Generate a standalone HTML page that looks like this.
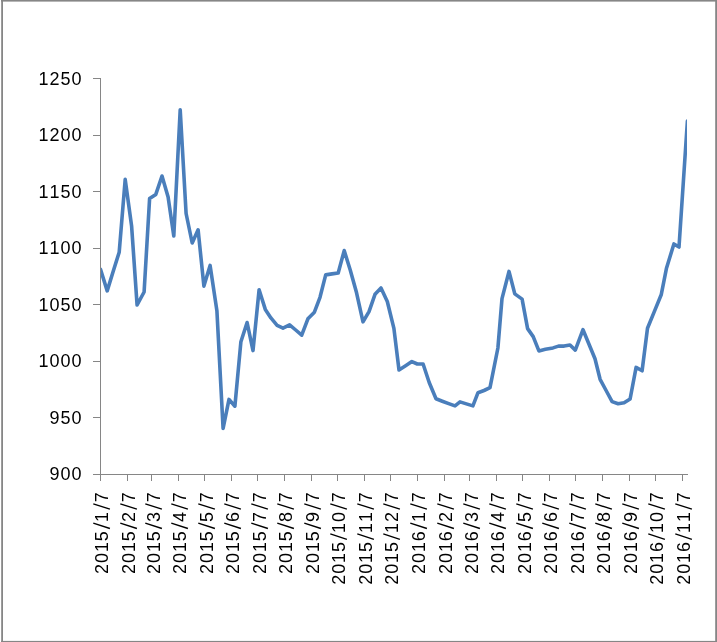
<!DOCTYPE html>
<html><head><meta charset="utf-8"><title>chart</title>
<style>
html,body{margin:0;padding:0;background:#fff;}
body{width:717px;height:642px;overflow:hidden;font-family:"Liberation Sans",sans-serif;}
svg{display:block;will-change:transform;}
text{font-family:"Liberation Sans",sans-serif;font-size:18px;fill:#000;text-anchor:middle;}
.sl{stroke:#000;stroke-width:1.35;stroke-linecap:butt;fill:none;}
</style></head><body>
<svg width="717" height="642" viewBox="0 0 717 642">
<rect x="0" y="0" width="717" height="642" fill="#fff"/>

<g fill="#868686">
<rect x="1" y="0" width="716" height="1.6"/>
<rect x="1.2" y="0" width="1.8" height="642"/>
<rect x="715.2" y="0" width="1.8" height="642"/>
<rect x="1" y="640.9" width="716" height="1.1"/>
</g>
<g fill="#868686" shape-rendering="crispEdges">
<rect x="100" y="78" width="1" height="403"/>
<rect x="93" y="474" width="595" height="1"/>
<rect x="93" y="78" width="7" height="1"/>
<rect x="93" y="135" width="7" height="1"/>
<rect x="93" y="191" width="7" height="1"/>
<rect x="93" y="248" width="7" height="1"/>
<rect x="93" y="304" width="7" height="1"/>
<rect x="93" y="361" width="7" height="1"/>
<rect x="93" y="417" width="7" height="1"/>
<rect x="127" y="475" width="1" height="6"/>
<rect x="151" y="475" width="1" height="6"/>
<rect x="178" y="475" width="1" height="6"/>
<rect x="204" y="475" width="1" height="6"/>
<rect x="231" y="475" width="1" height="6"/>
<rect x="257" y="475" width="1" height="6"/>
<rect x="284" y="475" width="1" height="6"/>
<rect x="311" y="475" width="1" height="6"/>
<rect x="337" y="475" width="1" height="6"/>
<rect x="364" y="475" width="1" height="6"/>
<rect x="390" y="475" width="1" height="6"/>
<rect x="417" y="475" width="1" height="6"/>
<rect x="444" y="475" width="1" height="6"/>
<rect x="469" y="475" width="1" height="6"/>
<rect x="496" y="475" width="1" height="6"/>
<rect x="522" y="475" width="1" height="6"/>
<rect x="549" y="475" width="1" height="6"/>
<rect x="575" y="475" width="1" height="6"/>
<rect x="602" y="475" width="1" height="6"/>
<rect x="629" y="475" width="1" height="6"/>
<rect x="655" y="475" width="1" height="6"/>
<rect x="682" y="475" width="1" height="6"/>
</g>
<g style="filter:grayscale(1)">
<text x="43.5 54.5 65.5 76.5" y="85">1250</text>
<text x="43.5 54.5 65.5 76.5" y="141">1200</text>
<text x="43.5 54.5 65.5 76.5" y="198">1150</text>
<text x="43.5 54.5 65.5 76.5" y="254">1100</text>
<text x="43.5 54.5 65.5 76.5" y="311">1050</text>
<text x="43.5 54.5 65.5 76.5" y="367">1000</text>
<text x="54.5 65.5 76.5" y="424">950</text>
<text x="54.5 65.5 76.5" y="480">900</text>
<g transform="translate(108.0,492.3) rotate(-90)"><text x="-76.6 -65.7 -54.8 -43.9 -24.7 -5.0" y="0">201517</text><line class="sl" x1="-36.2" y1="1.9" x2="-30.8" y2="-14.7"/><line class="sl" x1="-16.9" y1="1.9" x2="-11.6" y2="-14.7"/></g>
<g transform="translate(135.0,492.3) rotate(-90)"><text x="-76.6 -65.7 -54.8 -43.9 -24.7 -5.0" y="0">201527</text><line class="sl" x1="-36.2" y1="1.9" x2="-30.8" y2="-14.7"/><line class="sl" x1="-16.9" y1="1.9" x2="-11.6" y2="-14.7"/></g>
<g transform="translate(160.0,492.3) rotate(-90)"><text x="-76.6 -65.7 -54.8 -43.9 -24.7 -5.0" y="0">201537</text><line class="sl" x1="-36.2" y1="1.9" x2="-30.8" y2="-14.7"/><line class="sl" x1="-16.9" y1="1.9" x2="-11.6" y2="-14.7"/></g>
<g transform="translate(186.0,492.3) rotate(-90)"><text x="-76.6 -65.7 -54.8 -43.9 -24.7 -5.0" y="0">201547</text><line class="sl" x1="-36.2" y1="1.9" x2="-30.8" y2="-14.7"/><line class="sl" x1="-16.9" y1="1.9" x2="-11.6" y2="-14.7"/></g>
<g transform="translate(213.0,492.3) rotate(-90)"><text x="-76.6 -65.7 -54.8 -43.9 -24.7 -5.0" y="0">201557</text><line class="sl" x1="-36.2" y1="1.9" x2="-30.8" y2="-14.7"/><line class="sl" x1="-16.9" y1="1.9" x2="-11.6" y2="-14.7"/></g>
<g transform="translate(239.0,492.3) rotate(-90)"><text x="-76.6 -65.7 -54.8 -43.9 -24.7 -5.0" y="0">201567</text><line class="sl" x1="-36.2" y1="1.9" x2="-30.8" y2="-14.7"/><line class="sl" x1="-16.9" y1="1.9" x2="-11.6" y2="-14.7"/></g>
<g transform="translate(266.0,492.3) rotate(-90)"><text x="-76.6 -65.7 -54.8 -43.9 -24.7 -5.0" y="0">201577</text><line class="sl" x1="-36.2" y1="1.9" x2="-30.8" y2="-14.7"/><line class="sl" x1="-16.9" y1="1.9" x2="-11.6" y2="-14.7"/></g>
<g transform="translate(292.0,492.3) rotate(-90)"><text x="-76.6 -65.7 -54.8 -43.9 -24.7 -5.0" y="0">201587</text><line class="sl" x1="-36.2" y1="1.9" x2="-30.8" y2="-14.7"/><line class="sl" x1="-16.9" y1="1.9" x2="-11.6" y2="-14.7"/></g>
<g transform="translate(319.0,492.3) rotate(-90)"><text x="-76.6 -65.7 -54.8 -43.9 -24.7 -5.0" y="0">201597</text><line class="sl" x1="-36.2" y1="1.9" x2="-30.8" y2="-14.7"/><line class="sl" x1="-16.9" y1="1.9" x2="-11.6" y2="-14.7"/></g>
<g transform="translate(345.0,492.3) rotate(-90)"><text x="-87.5 -76.5 -65.6 -54.8 -35.6 -24.7 -5.0" y="0">2015107</text><line class="sl" x1="-47.1" y1="1.9" x2="-41.6" y2="-14.7"/><line class="sl" x1="-16.9" y1="1.9" x2="-11.6" y2="-14.7"/></g>
<g transform="translate(372.0,492.3) rotate(-90)"><text x="-87.5 -76.5 -65.6 -54.8 -35.6 -24.7 -5.0" y="0">2015117</text><line class="sl" x1="-47.1" y1="1.9" x2="-41.6" y2="-14.7"/><line class="sl" x1="-16.9" y1="1.9" x2="-11.6" y2="-14.7"/></g>
<g transform="translate(398.0,492.3) rotate(-90)"><text x="-87.5 -76.5 -65.6 -54.8 -35.6 -24.7 -5.0" y="0">2015127</text><line class="sl" x1="-47.1" y1="1.9" x2="-41.6" y2="-14.7"/><line class="sl" x1="-16.9" y1="1.9" x2="-11.6" y2="-14.7"/></g>
<g transform="translate(425.0,492.3) rotate(-90)"><text x="-76.6 -65.7 -54.8 -43.9 -24.7 -5.0" y="0">201617</text><line class="sl" x1="-36.2" y1="1.9" x2="-30.8" y2="-14.7"/><line class="sl" x1="-16.9" y1="1.9" x2="-11.6" y2="-14.7"/></g>
<g transform="translate(452.0,492.3) rotate(-90)"><text x="-76.6 -65.7 -54.8 -43.9 -24.7 -5.0" y="0">201627</text><line class="sl" x1="-36.2" y1="1.9" x2="-30.8" y2="-14.7"/><line class="sl" x1="-16.9" y1="1.9" x2="-11.6" y2="-14.7"/></g>
<g transform="translate(478.0,492.3) rotate(-90)"><text x="-76.6 -65.7 -54.8 -43.9 -24.7 -5.0" y="0">201637</text><line class="sl" x1="-36.2" y1="1.9" x2="-30.8" y2="-14.7"/><line class="sl" x1="-16.9" y1="1.9" x2="-11.6" y2="-14.7"/></g>
<g transform="translate(504.0,492.3) rotate(-90)"><text x="-76.6 -65.7 -54.8 -43.9 -24.7 -5.0" y="0">201647</text><line class="sl" x1="-36.2" y1="1.9" x2="-30.8" y2="-14.7"/><line class="sl" x1="-16.9" y1="1.9" x2="-11.6" y2="-14.7"/></g>
<g transform="translate(531.0,492.3) rotate(-90)"><text x="-76.6 -65.7 -54.8 -43.9 -24.7 -5.0" y="0">201657</text><line class="sl" x1="-36.2" y1="1.9" x2="-30.8" y2="-14.7"/><line class="sl" x1="-16.9" y1="1.9" x2="-11.6" y2="-14.7"/></g>
<g transform="translate(557.0,492.3) rotate(-90)"><text x="-76.6 -65.7 -54.8 -43.9 -24.7 -5.0" y="0">201667</text><line class="sl" x1="-36.2" y1="1.9" x2="-30.8" y2="-14.7"/><line class="sl" x1="-16.9" y1="1.9" x2="-11.6" y2="-14.7"/></g>
<g transform="translate(584.0,492.3) rotate(-90)"><text x="-76.6 -65.7 -54.8 -43.9 -24.7 -5.0" y="0">201677</text><line class="sl" x1="-36.2" y1="1.9" x2="-30.8" y2="-14.7"/><line class="sl" x1="-16.9" y1="1.9" x2="-11.6" y2="-14.7"/></g>
<g transform="translate(610.0,492.3) rotate(-90)"><text x="-76.6 -65.7 -54.8 -43.9 -24.7 -5.0" y="0">201687</text><line class="sl" x1="-36.2" y1="1.9" x2="-30.8" y2="-14.7"/><line class="sl" x1="-16.9" y1="1.9" x2="-11.6" y2="-14.7"/></g>
<g transform="translate(637.0,492.3) rotate(-90)"><text x="-76.6 -65.7 -54.8 -43.9 -24.7 -5.0" y="0">201697</text><line class="sl" x1="-36.2" y1="1.9" x2="-30.8" y2="-14.7"/><line class="sl" x1="-16.9" y1="1.9" x2="-11.6" y2="-14.7"/></g>
<g transform="translate(663.0,492.3) rotate(-90)"><text x="-87.5 -76.5 -65.6 -54.8 -35.6 -24.7 -5.0" y="0">2016107</text><line class="sl" x1="-47.1" y1="1.9" x2="-41.6" y2="-14.7"/><line class="sl" x1="-16.9" y1="1.9" x2="-11.6" y2="-14.7"/></g>
<g transform="translate(690.0,492.3) rotate(-90)"><text x="-87.5 -76.5 -65.6 -54.8 -35.6 -24.7 -5.0" y="0">2016117</text><line class="sl" x1="-47.1" y1="1.9" x2="-41.6" y2="-14.7"/><line class="sl" x1="-16.9" y1="1.9" x2="-11.6" y2="-14.7"/></g>
</g>
<clipPath id="c"><rect x="101" y="70" width="586" height="410"/></clipPath>
<polyline clip-path="url(#c)" points="100.5,269.4 107.2,290.9 113,272 119.2,252.2 125.2,179.4 131.6,226 137.1,305 144.1,292 149.6,198.6 155.8,194.4 162,176 168.1,197 173.8,236 180.2,109.8 186.1,213.5 192.2,243 198.1,229.8 203.9,286.1 210.1,265.4 216.9,310.7 223.1,428.4 229,399.4 234.9,406.2 240.9,341.7 247.1,322.5 253,350.6 259.1,289.8 265.3,309.4 270.9,317.9 277.1,325.3 283,328.1 289.6,324.8 295.7,330 301.7,335.2 307.9,318.8 314.4,312.2 320,297.3 325.7,274.9 332,273.9 338.2,273 344.2,250.6 350.3,270.2 356.5,292.6 363,321.8 369,311.7 375,294.3 381,288 387.3,301.5 393.9,328.4 399,370 405.6,365.8 411.9,361.6 417.3,364 423.1,364 429.2,382.5 436,398.8 442.3,401.2 448.7,403.6 455,405.9 460,401.9 466.4,403.9 472.9,405.9 478,392.7 484,390.5 490,387.7 497.9,348 502,298.6 509,271.4 514.8,293.9 522.1,299.1 527.6,328.6 533.2,336.6 538.9,350.9 545.4,349.3 553,347.9 558.5,346.1 564.1,346.1 570,345 575.3,350.1 583,329.7 589,344.2 595,358.8 600.1,379.3 606.1,390.5 612.1,401.6 618.1,403.8 624.1,402.8 630.1,399 636.1,367.4 642.1,370.8 647.5,328.2 654.3,311.6 661.2,294.8 666.4,268.6 673.9,243.9 679,247.1 687.4,121" fill="none" stroke="#4a7ebb" stroke-width="3.6" stroke-linejoin="round" stroke-linecap="round"/>
</svg></body></html>
